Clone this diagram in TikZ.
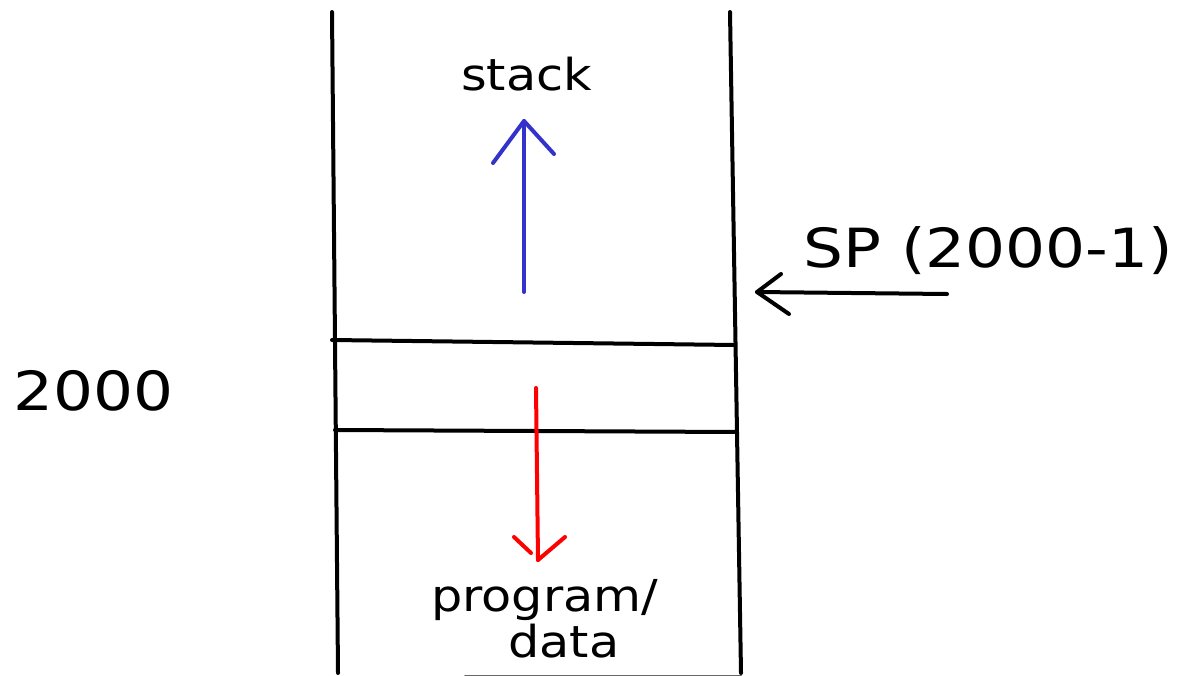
\documentclass[tikz,border=0pt]{standalone}
\usepackage{fontspec}
\setmainfont{DejaVu Sans}
\newfontfamily\widefont[FakeStretch=1.12]{DejaVu Sans}
\newfontfamily\widerfont[FakeStretch=1.165]{DejaVu Sans}
\definecolor{stackblue}{HTML}{3333CC}
\begin{document}
\begin{tikzpicture}[x=1pt,y=-1pt,
  wall/.style={line width=4pt,line cap=round,black},
  pen/.style={line width=4pt,line cap=round},
  lbl/.style={inner sep=0pt,anchor=base west},
  small/.style={font=\widefont\fontsize{44}{44}\selectfont},
  big/.style={font=\widerfont\fontsize{54}{54}\selectfont}]
\useasboundingbox (0,0) rectangle (1180,675);

% memory column walls and partitions
\coordinate (lt) at (332,12);
\coordinate (lb) at (338,673);
\coordinate (rt) at (730,12);
\coordinate (rb) at (741,673);
\draw[wall] (lt) -- (lb);
\draw[wall] (rt) -- (rb);
\coordinate (p1l) at (332,340);
\coordinate (p1r) at (735,345);
\coordinate (p2l) at (335,430);
\coordinate (p2r) at (737,432);
\draw[wall] (p1l) -- (p1r);
\draw[wall] (p2l) -- (p2r);
\coordinate (bl) at (465,675.5);
\coordinate (br) at (741,675.5);
\draw[wall,line width=2pt,black!60] (bl) -- (br);

% labels
\node[lbl,small] (stack) at (461,90) {stack};
\node[lbl,big] (sp) at (803,267) {SP (2000-1)};
\node[lbl,big] (addr) at (13,410) {2000};
\node[lbl,small] (prog) at (431,611) {program/};
\node[lbl,small] (data) at (508,657) {data};

% stack grows upward
\coordinate (bt) at (524,292);
\coordinate (bh) at (524,121);
\coordinate (bhl) at (493,163);
\coordinate (bhr) at (554,154);
\draw[pen,stackblue] (bt) -- (bh);
\draw[pen,stackblue,line join=round] (bhl) -- (bh) -- (bhr);

% program/data grows downward
\coordinate (rt0) at (536,388);
\coordinate (rh) at (538,560);
\coordinate (rhl) at (514,537);
\coordinate (rhl2) at (531,553);
\coordinate (rhr) at (565,537);
\draw[pen,red] (rt0) -- (rh);
\draw[pen,red] (rhl) -- (rhl2);
\draw[pen,red,line join=round] (rh) -- (rhr);

% stack pointer
\coordinate (st) at (947,294);
\coordinate (sh) at (757,292);
\coordinate (shu) at (781,274);
\coordinate (shd) at (789,314);
\draw[pen,black] (st) -- (sh);
\draw[pen,black,line join=round] (shu) -- (sh) -- (shd);
\end{tikzpicture}
\end{document}
